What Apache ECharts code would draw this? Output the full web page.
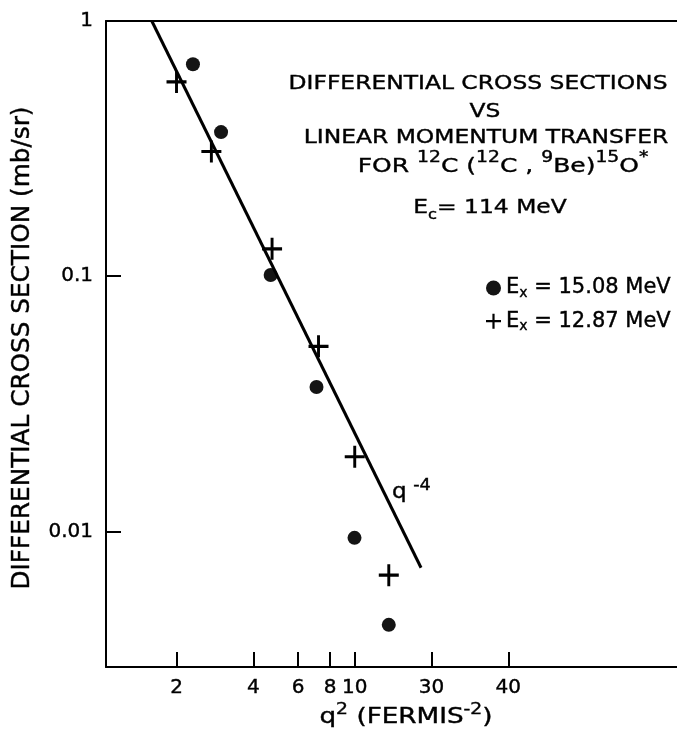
<!DOCTYPE html>
<html><head><meta charset="utf-8">
<script src="https://cdn.jsdelivr.net/npm/echarts@6/dist/echarts.min.js"></script>
<style>html,body{margin:0;padding:0;background:#fff}#c{width:677px;height:731px}</style>
</head><body><div id="c"></div>
<script>
// ---- data ----
const xTickValues = [2, 4, 6, 8, 10, 20, 40];
const xTickLabels = ['2', '4', '6', '8', '10', '30', '40'];
const yTickValues = [0.01, 0.1, 1];
const yTickLabels = ['0.01', '0.1', '1'];
const seriesNames = ['Ex = 15.08 MeV', 'Ex = 12.87 MeV'];
const q2Circle = [2.32, 2.99, 4.68, 7.08, 9.98, 13.6];
const dsCircle = [0.677, 0.367, 0.101, 0.0368, 0.00943, 0.0043];
const q2Plus = [2.0, 2.74, 4.74, 7.21, 10.0, 13.6];
const dsPlus = [0.577, 0.308, 0.128, 0.0531, 0.0196, 0.00673];
const q2Fit = [1.60, 18.2];
const dsFit = [1.0, 0.0072];

const FONT = 'DejaVu Sans';
const INK = '#000';
const pairs = (xs, ys) => xs.map((x, i) => [x, ys[i]]);
const plusPath = 'path://M10.25,0h3.5v24h-3.5z M0,10.25h24v3.5h-24z';

const chart = echarts.init(document.getElementById('c'));
const xMin = 1.058, xMax = 183.6, yMin = 0.00294, yMax = 1;
const labelOf = (vals, labs, v) => labs[vals.findIndex(t => Math.abs(t - v) / t < 1e-6)] || '';

function txt(x, y, text, size, opts) {
  opts = opts || {};
  return {
    type: 'text', x: x, y: y, scaleX: opts.scaleX || 1.17, rotation: opts.rotation || 0,
    style: {
      text: text, fill: INK, fontFamily: FONT, fontSize: size,
      stroke: INK, lineWidth: 0.4,
      align: opts.align || 'center', textAlign: opts.align || 'center',
      verticalAlign: 'middle', textVerticalAlign: 'middle',
      lineHeight: opts.lineHeight || size,
      rich: opts.rich || {}
    }
  };
}
const mkRich = (s, pad) => ({
  sup: { fontSize: s, fontFamily: FONT, lineHeight: s, verticalAlign: 'top', fill: INK, padding: [0, 0, 0, pad || 0] },
  sub: { fontSize: s, fontFamily: FONT, lineHeight: s, verticalAlign: 'bottom', fill: INK }
});
const tickFont = { fontSize: 20, color: INK, textBorderColor: INK, textBorderWidth: 0.4 };

chart.setOption({
  animation: false,
  backgroundColor: '#fff',
  textStyle: { fontFamily: FONT, color: INK },
  grid: { left: 106, top: 21, right: 0, bottom: 64, containLabel: false },
  xAxis: [{
    type: 'log', min: xMin, max: xMax,
    axisLine: { lineStyle: { color: INK, width: 2 } },
    axisTick: { inside: true, length: 15, customValues: xTickValues, lineStyle: { color: INK, width: 2 } },
    axisLabel: Object.assign({
      customValues: xTickValues, margin: 11, hideOverlap: false,
      formatter: v => labelOf(xTickValues, xTickLabels, v)
    }, tickFont),
    splitLine: { show: false }, minorTick: { show: false }
  }, {
    type: 'log', min: xMin, max: xMax, position: 'top',
    axisLine: { lineStyle: { color: INK, width: 2 } },
    axisTick: { show: false }, axisLabel: { show: false }, splitLine: { show: false }
  }],
  yAxis: {
    type: 'log', min: yMin, max: yMax,
    axisLine: { lineStyle: { color: INK, width: 2 } },
    axisTick: { inside: true, length: 15, customValues: yTickValues, lineStyle: { color: INK, width: 2 } },
    axisLabel: Object.assign({
      // the end label ("1") is placed below with the same scale, so the library does not shift it
      customValues: yTickValues.filter(v => v < yMax), margin: 13, hideOverlap: false, align: 'right',
      formatter: v => labelOf(yTickValues, yTickLabels, v)
    }, tickFont),
    splitLine: { show: false }
  },
  legend: {
    data: seriesNames, orient: 'vertical', left: 486, top: 276, padding: 0,
    itemWidth: 15, itemHeight: 15, itemGap: 9,
    formatter: n => n.replace(/^Ex/, 'E{sub|x}'),
    textStyle: { fontSize: 21, color: INK, fontFamily: FONT, lineHeight: 24,
      textBorderColor: INK, textBorderWidth: 0.4,
      rich: { sub: { fontSize: 14, fontFamily: FONT, verticalAlign: 'bottom', lineHeight: 14 } } }
  },
  series: [{
    name: seriesNames[0], type: 'scatter', data: pairs(q2Circle, dsCircle),
    symbol: 'circle', symbolSize: 14, itemStyle: { color: '#141414', opacity: 1 }
  }, {
    name: seriesNames[1], type: 'scatter', data: pairs(q2Plus, dsPlus),
    symbol: plusPath, symbolSize: [20, 22], itemStyle: { color: INK, opacity: 1 }
  }, {
    name: 'q-4', type: 'line', data: pairs(q2Fit, dsFit), showSymbol: false, symbol: 'none',
    lineStyle: { color: INK, width: 3 }, silent: true
  }]
});

// place the top y tick label ("1") through the library's own scale
const yTop = chart.convertToPixel({ yAxisIndex: 0 }, yTickValues[2]);
const xLeft = chart.convertToPixel({ xAxisIndex: 0 }, xMin);
chart.setOption({
  graphic: [
    {
      type: 'text', x: xLeft - 13, y: yTop,
      style: { text: yTickLabels[2], fill: INK, fontFamily: FONT, fontSize: 20, stroke: INK, lineWidth: 0.4,
        align: 'right', textAlign: 'right', verticalAlign: 'middle', textVerticalAlign: 'middle' }
    },
    txt(478, 84, 'DIFFERENTIAL CROSS SECTIONS', 20),
    txt(485, 112, 'VS', 20),
    txt(486, 138, 'LINEAR MOMENTUM TRANSFER', 20),
    txt(503, 167, 'FOR {sup|12}C ({sup|12}C , {sup|9}Be){sup|15}O{sup|*}', 20, { rich: mkRich(15), lineHeight: 32, scaleX: 1.25 }),
    txt(490, 208, 'E{sub|c}= 114 MeV', 20, { rich: mkRich(14), lineHeight: 28 }),
    txt(392, 493, 'q{sup|-4}', 21, { rich: mkRich(16, 6), lineHeight: 30, align: 'left', scaleX: 1.1 }),
    txt(23, 348, 'DIFFERENTIAL CROSS SECTION (mb/sr)', 24, { rotation: Math.PI / 2, scaleX: 1.03 }),
    txt(406, 718, 'q{sup|2} (FERMIS{sup|-2})', 21, { rich: mkRich(15), lineHeight: 30, scaleX: 1.25 })
  ]
});
</script></body></html>
